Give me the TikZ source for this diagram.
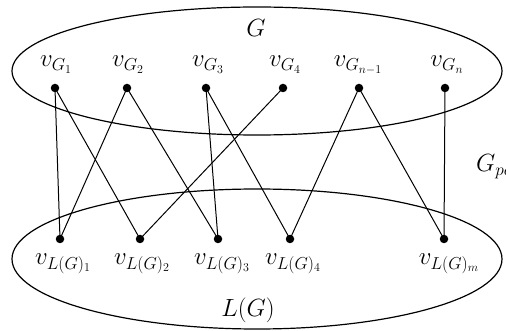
\documentclass[tikz,border=0pt]{standalone}
\begin{document}
\begin{tikzpicture}[x=1pt,y=-1pt,
  dot/.style={circle,fill=black,inner sep=0pt,minimum size=8.5pt},
  lbl/.style={inner sep=0pt,anchor=base,font=\fontsize{24.5}{29}\selectfont},
  edge/.style={line width=1pt},
  set/.style={line width=1.2pt}]
\clip (0,0) rectangle (506,331);
\draw[set] (257,71) ellipse [x radius=245pt, y radius=64pt];
\draw[set] (257,259) ellipse [x radius=245pt, y radius=70pt];
% top vertices
\node[dot] (g1) at (55,88) {};
\node[dot] (g2) at (127,88) {};
\node[dot] (g3) at (206,88) {};
\node[dot] (g4) at (283,88) {};
\node[dot] (gn1) at (359,88) {};
\node[dot] (gn) at (445,88) {};
% bottom vertices
\node[dot] (l1) at (60,239) {};
\node[dot] (l2) at (140,239) {};
\node[dot] (l3) at (218,239) {};
\node[dot] (l4) at (290,239) {};
\node[dot] (lm) at (444,239) {};
% edges
\draw[edge] (g1.center) -- (l1.center);
\draw[edge] (g1.center) -- (l2.center);
\draw[edge] (g2.center) -- (l1.center);
\draw[edge] (g2.center) -- (l3.center);
\draw[edge] (g3.center) -- (l3.center);
\draw[edge] (g3.center) -- (l4.center);
\draw[edge] (g4.center) -- (l2.center);
\draw[edge] (gn1.center) -- (l4.center);
\draw[edge] (gn1.center) -- (lm.center);
\draw[edge] (gn.center) -- (lm.center);
% labels
\node[lbl] (tG) at (256,37) {$G$};
\node[lbl] (tLG) at (248,316) {$L(G)$};
\node[lbl,anchor=base west] (tGp) at (476,172) {$G_{po}$};
\node[lbl] (vg1) at (56,67) {$v_{G_1}$};
\node[lbl] (vg2) at (128,67) {$v_{G_2}$};
\node[lbl] (vg3) at (208,67) {$v_{G_3}$};
\node[lbl] (vg4) at (285,67) {$v_{G_4}$};
\node[lbl] (vgn1) at (358,67) {$v_{G_{n-1}}$};
\node[lbl] (vgn) at (447,67) {$v_{G_n}$};
\node[lbl] (vl1) at (63,265) {$v_{L(G)_1}$};
\node[lbl] (vl2) at (142,265) {$v_{L(G)_2}$};
\node[lbl] (vl3) at (222,265) {$v_{L(G)_3}$};
\node[lbl] (vl4) at (293,265) {$v_{L(G)_4}$};
\node[lbl] (vlm) at (449,265) {$v_{L(G)_m}$};
\end{tikzpicture}
\end{document}
